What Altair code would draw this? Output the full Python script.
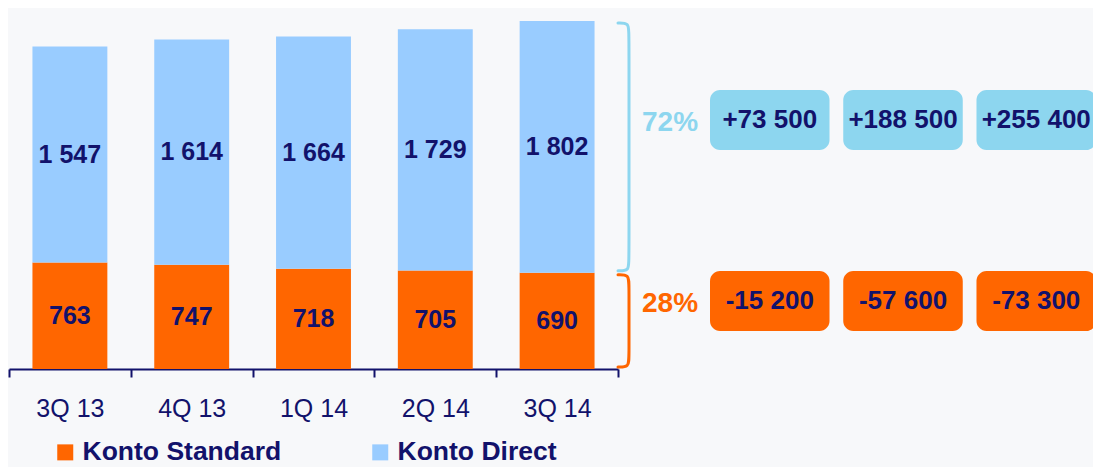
import altair as alt
import pandas as pd

# ---------------- data ----------------
quarters = ["3Q 13", "4Q 13", "1Q 14", "2Q 14", "3Q 14"]
standard = [763, 747, 718, 705, 690]
direct = [1547, 1614, 1664, 1729, 1802]
series = ["Konto Standard", "Konto Direct"]
periods = ["q/q", "YTD", "y/y"]
change_standard = [-15200, -57600, -73300]
change_direct = [73500, 188500, 255400]

# ---------------- style ----------------
NAVY = "#12126B"
ORANGE = "#FF6600"
LIGHTBLUE = "#99CCFF"
CYAN = "#8DD6EF"
BG = "#F7F8FA"
FONT = "Liberation Sans"


def fmt(v):
    return f"{v:,}".replace(",", " ")


def fmt_signed(v):
    return ("+" if v > 0 else "-") + fmt(abs(v))


rows = []
for i, q in enumerate(quarters):
    for k, (name, vals) in enumerate(zip(series, [standard, direct])):
        rows.append({"quarter": q, "series": name, "order": k,
                     "value": vals[i], "label": fmt(vals[i])})
bars_df = pd.DataFrame(rows)

# braces around the segments of the latest quarter
last_std, last_dir = standard[-1], direct[-1]
total = last_std + last_dir
segments = [("Konto Standard", 0, last_std), ("Konto Direct", last_std, total)]
gap, corner = 14, 70
brace_rows = []
for name, lo, hi in segments:
    pts = [(0, hi - gap), (1, hi - gap), (1, hi - gap - corner),
           (1, lo + gap + corner), (1, lo + gap), (0, lo + gap)]
    for j, (bx, by) in enumerate(pts):
        brace_rows.append({"series": name, "i": j, "bx": bx, "by": by})
brace_df = pd.DataFrame(brace_rows)

shares = [f"{round(100 * last_std / total)}%", f"{round(100 * last_dir / total)}%"]
pct_df = pd.DataFrame({"series": series, "pct": shares})

box_rows = []
for name, changes in zip(series, [change_standard, change_direct]):
    for p, c in zip(periods, changes):
        box_rows.append({"series": name, "period": p, "text": fmt_signed(c)})
box_df = pd.DataFrame(box_rows)

# ---------------- scales ----------------
x_bar = alt.Scale(type="band", domain=quarters, range=[0, 609], paddingInner=0, paddingOuter=0)
y_val = alt.Scale(domain=[0, 2500], nice=False)
x_box = alt.Scale(type="band", domain=periods, range=[701, 1087], paddingInner=0.103, paddingOuter=0)
y_box = alt.Scale(type="band", domain=series[::-1], range=[70, 311], paddingInner=0.6685, paddingOuter=0)
accent = alt.Scale(domain=series, range=[ORANGE, CYAN])

base = alt.Chart(bars_df).transform_stack(
    stack="value", groupby=["quarter"], as_=["v0", "v1"],
    sort=[alt.SortField("order", order="ascending")],
).transform_calculate(mid="(datum.v0 + datum.v1) / 2")

bars = base.mark_bar(width=alt.RelativeBandSize(0.615)).encode(
    x=alt.X("quarter:N", scale=x_bar, sort=None, title=None,
            axis=alt.Axis(labelAngle=0, labelFont=FONT, labelFontSize=25,
                          labelColor=NAVY, labelPadding=19, domainColor=NAVY,
                          domainWidth=2, tickColor=NAVY, tickWidth=2, tickSize=8,
                          tickBand="extent", grid=False)),
    y=alt.Y("v0:Q", scale=y_val, axis=None),
    y2="v1:Q",
    color=alt.Color("series:N", scale=alt.Scale(domain=series, range=[ORANGE, LIGHTBLUE]),
                    legend=alt.Legend(title=None, orient="none", legendX=43, legendY=419,
                                      direction="horizontal", symbolType="square",
                                      symbolSize=256, symbolStrokeWidth=0, symbolOpacity=1,
                                      labelFont=FONT, labelFontSize=26.5, labelFontWeight="bold",
                                      labelColor=NAVY, labelOffset=4, columnPadding=85,
                                      labelLimit=400, padding=0)),
)

bar_text = base.mark_text(font=FONT, fontSize=25, fontWeight="bold", color=NAVY).encode(
    x=alt.X("quarter:N", scale=x_bar, sort=None, axis=None),
    y=alt.Y("mid:Q", scale=y_val, axis=None),
    text="label:N",
)

braces = alt.Chart(brace_df).mark_line(strokeWidth=3, interpolate="basis", strokeCap="round").encode(
    x=alt.X("bx:Q", scale=alt.Scale(domain=[0, 1], range=[609, 620]), axis=None),
    y=alt.Y("by:Q", scale=y_val, axis=None),
    order="i:Q",
    color=alt.Color("series:N", scale=accent, legend=None),
)

boxes = alt.Chart(box_df).mark_rect(cornerRadius=10).encode(
    x=alt.X("period:N", scale=x_box, axis=None),
    y=alt.Y("series:N", scale=y_box, axis=None),
    color=alt.Color("series:N", scale=accent, legend=None),
)

box_text = alt.Chart(box_df).mark_text(font=FONT, fontSize=26, fontWeight="bold", color=NAVY).encode(
    x=alt.X("period:N", scale=x_box, axis=None),
    y=alt.Y("series:N", scale=y_box, axis=None),
    text="text:N",
)

pct = alt.Chart(pct_df).mark_text(font=FONT, fontSize=28, fontWeight="bold", dy=3).encode(
    x=alt.value(661),
    y=alt.Y("series:N", scale=y_box, axis=None),
    text="pct:N",
    color=alt.Color("series:N", scale=accent, legend=None),
)

chart = alt.layer(bars, bar_text, braces, boxes, box_text, pct).resolve_scale(
    x="independent", y="independent", color="independent"
).properties(
    width=1084, height=349,
    padding={"left": 1, "top": 12, "right": 0, "bottom": 98},
    autosize=alt.AutoSizeParams(type="none"),
    background=BG,
).configure_view(stroke=None)

chart.save("out.html", embed_options={"renderer": "svg", "actions": False})
